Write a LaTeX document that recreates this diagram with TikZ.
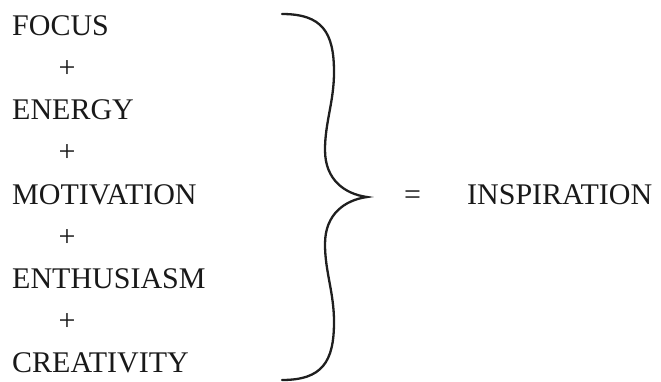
\documentclass[tikz,border=0pt]{standalone}
\usepackage{fontspec}
\setmainfont{Liberation Serif}
\begin{document}
\begin{tikzpicture}[x=1pt,y=-1pt,
  term/.style={anchor=base west,inner sep=0pt,font=\fontsize{30}{30}\selectfont,text=black!90},
  plussign/.style={anchor=base,inner sep=0pt,font=\fontsize{30}{30}\selectfont,text=black!90},
  bracestroke/.style={line width=2.3pt,black!88,line cap=round}]
\useasboundingbox (0,0) rectangle (661,381);
\node[term] (focus) at (12,35) {FOCUS};
\node[plussign] (p1) at (67,77) {+};
\node[term] (energy) at (12,119) {ENERGY};
\node[plussign] (p2) at (67,161) {+};
\node[term] (motivation) at (12,204) {MOTIVATION};
\node[plussign] (p3) at (67,246) {+};
\node[term] (enthusiasm) at (12,288) {ENTHUSIASM};
\node[plussign] (p4) at (67,330) {+};
\node[term] (creativity) at (12,372) {CREATIVITY};
\draw[bracestroke] (282,14) .. controls (322,14) and (334,32) .. (334,72)
  .. controls (334,102) and (325,122) .. (325,150)
  .. controls (325,180) and (345,194) .. (367,197)
  .. controls (345,200) and (325,214) .. (325,244)
  .. controls (325,272) and (334,292) .. (334,322)
  .. controls (334,362) and (322,380) .. (282,380);
\node[plussign] (eq) at (412.5,204) {=};
\node[term] (inspiration) at (467,204) {INSPIRATION};
\end{tikzpicture}
\end{document}
